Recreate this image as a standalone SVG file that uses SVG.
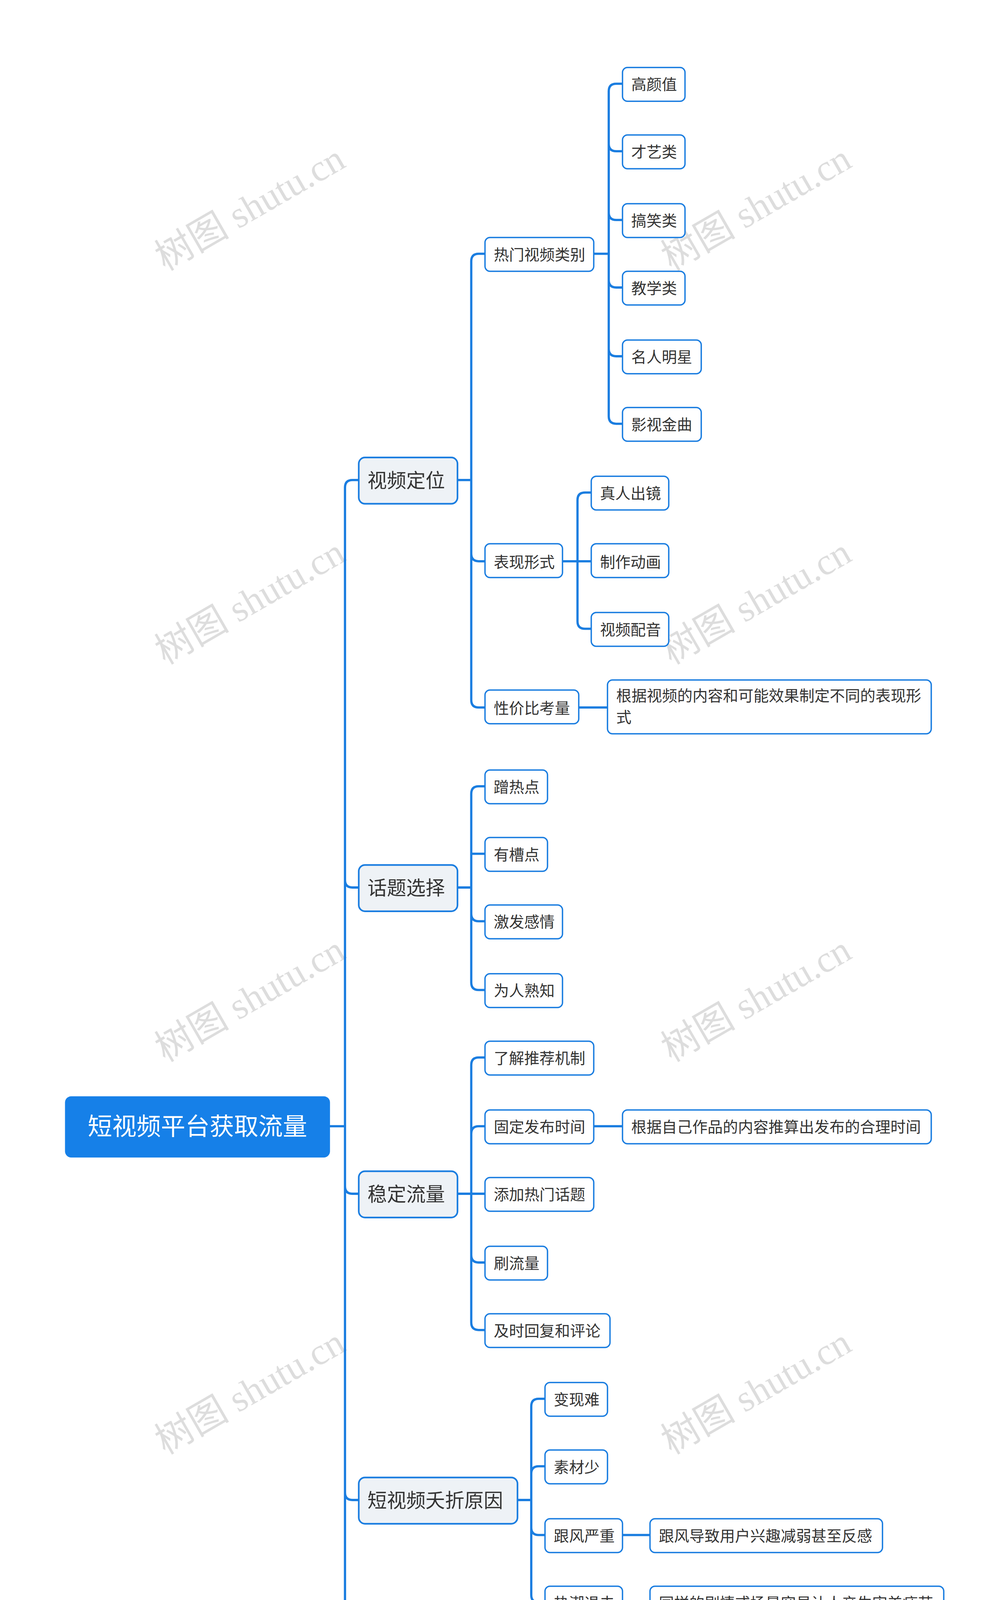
<svg xmlns="http://www.w3.org/2000/svg" width="2560" height="4969" viewBox="0 0 2560 4969">
<style>
.c{fill:none;stroke:#1a7de0;stroke-width:1.8;stroke-linecap:round}
.n{fill:#fff;stroke:#1a7de0;stroke-width:1.1}
.m{fill:#eef2f6;stroke:#1a7de0;stroke-width:1.3}
text{font-family:"Noto Sans CJK SC","Noto Sans",sans-serif;fill:#333}
.t{font-size:12.2px}
.l{font-size:15.5px}
.w{font-family:"Liberation Serif","Noto Sans CJK SC",serif;font-size:30px;fill:#000;opacity:0.13}
</style>
<rect width="2560" height="4969" fill="#fff"/>
<g transform="scale(3.2)">
<g id="watermarks">
<text class="w" transform="translate(205,175) rotate(-30)" text-anchor="middle">树图 shutu.cn</text>
<text class="w" transform="translate(610,175) rotate(-30)" text-anchor="middle">树图 shutu.cn</text>
<text class="w" transform="translate(205,490) rotate(-30)" text-anchor="middle">树图 shutu.cn</text>
<text class="w" transform="translate(610,490) rotate(-30)" text-anchor="middle">树图 shutu.cn</text>
<text class="w" transform="translate(205,808) rotate(-30)" text-anchor="middle">树图 shutu.cn</text>
<text class="w" transform="translate(610,808) rotate(-30)" text-anchor="middle">树图 shutu.cn</text>
<text class="w" transform="translate(205,1122) rotate(-30)" text-anchor="middle">树图 shutu.cn</text>
<text class="w" transform="translate(610,1122) rotate(-30)" text-anchor="middle">树图 shutu.cn</text>
<text class="w" transform="translate(205,1438) rotate(-30)" text-anchor="middle">树图 shutu.cn</text>
<text class="w" transform="translate(610,1438) rotate(-30)" text-anchor="middle">树图 shutu.cn</text>
</g>
<g id="connectors">
<path class="c" d="M264 901H276M276 390V1412M276 390Q276 384 282 384H287M276 704Q276 710 282 710H287M276 949Q276 955 282 955H287M276 1194Q276 1200 282 1200H287M276 1412Q276 1418 282 1418H287"/>
<path class="c" d="M366 384H377M377 209V560M377 209Q377 203 383 203H388M377 443Q377 449 383 449H388M377 560Q377 566 383 566H388"/>
<path class="c" d="M475 203H487M487 73V333M487 73Q487 67 493 67H498M487 115Q487 121 493 121H498M487 170Q487 176 493 176H498M487 224Q487 230 493 230H498M487 279Q487 285 493 285H498M487 333Q487 339 493 339H498"/>
<path class="c" d="M450 449H462M462 400V497M462 400Q462 394 468 394H473M462 449H473M462 497Q462 503 468 503H473"/>
<path class="c" d="M463 566H486"/>
<path class="c" d="M366 710H377M377 635V786M377 635Q377 629 383 629H388M377 683H388M377 731Q377 737 383 737H388M377 786Q377 792 383 792H388"/>
<path class="c" d="M366 955H377M377 852V1058M377 852Q377 846 383 846H388M377 907Q377 901 383 901H388M377 955H388M377 1004Q377 1010 383 1010H388M377 1058Q377 1064 383 1064H388"/>
<path class="c" d="M475 901H498"/>
<path class="c" d="M414 1200H425M425 1125V1276M425 1125Q425 1119 431 1119H436M425 1179Q425 1173 431 1173H436M425 1222Q425 1228 431 1228H436M425 1276Q425 1282 431 1282H436"/>
<path class="c" d="M498 1228H520M498 1282H520"/>
<path class="c" d="M366 1418H377M377 1343V1494M377 1343Q377 1337 383 1337H388M377 1397Q377 1391 383 1391H388M377 1440Q377 1446 383 1446H388M377 1494Q377 1500 383 1500H388"/>
</g>
<g id="root"><rect x="52" y="877" width="212" height="49" rx="5" fill="#1680e8"/><text x="158" y="908" font-size="19.5" text-anchor="middle" style="fill:#fff">短视频平台获取流量</text></g>
<g id="n1"><rect class="m" x="287" y="366" width="79" height="37" rx="5"/><text class="l" x="294" y="390">视频定位</text></g>
<g id="n2"><rect class="m" x="287" y="692" width="79" height="37" rx="5"/><text class="l" x="294" y="716">话题选择</text></g>
<g id="n3"><rect class="m" x="287" y="937" width="79" height="37" rx="5"/><text class="l" x="294" y="961">稳定流量</text></g>
<g id="n4"><rect class="m" x="287" y="1182" width="127" height="37" rx="5"/><text class="l" x="294" y="1206">短视频夭折原因</text></g>
<g id="n5"><rect class="m" x="287" y="1400" width="79" height="37" rx="5"/><text class="l" x="294" y="1424">变现方式</text></g>

<g id="a1"><rect class="n" x="388" y="190" width="87" height="27" rx="4"/><text class="t" x="395" y="208">热门视频类别</text></g>
<g id="a2"><rect class="n" x="388" y="435" width="62" height="27" rx="4"/><text class="t" x="395" y="454">表现形式</text></g>
<g id="a3"><rect class="n" x="388" y="552" width="75" height="27" rx="4"/><text class="t" x="395" y="571">性价比考量</text></g>
<g id="b1"><rect class="n" x="498" y="54" width="50" height="27" rx="4"/><text class="t" x="505" y="72">高颜值</text></g>
<g id="b2"><rect class="n" x="498" y="108" width="50" height="27" rx="4"/><text class="t" x="505" y="126">才艺类</text></g>
<g id="b3"><rect class="n" x="498" y="163" width="50" height="27" rx="4"/><text class="t" x="505" y="181">搞笑类</text></g>
<g id="b4"><rect class="n" x="498" y="217" width="50" height="27" rx="4"/><text class="t" x="505" y="235">教学类</text></g>
<g id="b5"><rect class="n" x="498" y="272" width="63" height="27" rx="4"/><text class="t" x="505" y="290">名人明星</text></g>
<g id="b6"><rect class="n" x="498" y="326" width="63" height="27" rx="4"/><text class="t" x="505" y="344">影视金曲</text></g>
<g id="c1"><rect class="n" x="473" y="381" width="62" height="27" rx="4"/><text class="t" x="480" y="399">真人出镜</text></g>
<g id="c2"><rect class="n" x="473" y="435" width="62" height="27" rx="4"/><text class="t" x="480" y="454">制作动画</text></g>
<g id="c3"><rect class="n" x="473" y="490" width="62" height="27" rx="4"/><text class="t" x="480" y="508">视频配音</text></g>
<g id="d1"><rect class="n" x="486" y="544" width="259" height="43" rx="4"/><text class="t" x="493" y="561">根据视频的内容和可能效果制定不同的表现形</text><text class="t" x="493" y="578">式</text></g>
<g id="e1"><rect class="n" x="388" y="616" width="50" height="27" rx="4"/><text class="t" x="395" y="634">蹭热点</text></g>
<g id="e2"><rect class="n" x="388" y="670" width="50" height="27" rx="4"/><text class="t" x="395" y="688">有槽点</text></g>
<g id="e3"><rect class="n" x="388" y="724" width="62" height="27" rx="4"/><text class="t" x="395" y="742">激发感情</text></g>
<g id="e4"><rect class="n" x="388" y="779" width="62" height="27" rx="4"/><text class="t" x="395" y="797">为人熟知</text></g>
<g id="f1"><rect class="n" x="388" y="833" width="87" height="27" rx="4"/><text class="t" x="395" y="851">了解推荐机制</text></g>
<g id="f2"><rect class="n" x="388" y="888" width="87" height="27" rx="4"/><text class="t" x="395" y="906">固定发布时间</text></g>
<g id="f2a"><rect class="n" x="498" y="888" width="247" height="27" rx="4"/><text class="t" x="505" y="906">根据自己作品的内容推算出发布的合理时间</text></g>
<g id="f3"><rect class="n" x="388" y="942" width="87" height="27" rx="4"/><text class="t" x="395" y="960">添加热门话题</text></g>
<g id="f4"><rect class="n" x="388" y="997" width="50" height="27" rx="4"/><text class="t" x="395" y="1015">刷流量</text></g>
<g id="f5"><rect class="n" x="388" y="1051" width="100" height="27" rx="4"/><text class="t" x="395" y="1069">及时回复和评论</text></g>
<g id="g1"><rect class="n" x="436" y="1106" width="50" height="27" rx="4"/><text class="t" x="443" y="1124">变现难</text></g>
<g id="g2"><rect class="n" x="436" y="1160" width="50" height="27" rx="4"/><text class="t" x="443" y="1178">素材少</text></g>
<g id="g3"><rect class="n" x="436" y="1215" width="62" height="27" rx="4"/><text class="t" x="443" y="1233">跟风严重</text></g>
<g id="g3a"><rect class="n" x="520" y="1215" width="186" height="27" rx="4"/><text class="t" x="527" y="1233">跟风导致用户兴趣减弱甚至反感</text></g>
<g id="g4"><rect class="n" x="436" y="1269" width="62" height="27" rx="4"/><text class="t" x="443" y="1287">热潮退去</text></g>
<g id="g4a"><rect class="n" x="520" y="1269" width="235" height="27" rx="4"/><text class="t" x="527" y="1287">同样的剧情或场景容易让人产生审美疲劳</text></g>
<g id="h1"><rect class="n" x="388" y="1324" width="62" height="27" rx="4"/><text class="t" x="395" y="1342">橱窗带货</text></g>
<g id="h2"><rect class="n" x="388" y="1378" width="62" height="27" rx="4"/><text class="t" x="395" y="1396">视频带货</text></g>
<g id="h3"><rect class="n" x="388" y="1433" width="37" height="27" rx="4"/><text class="t" x="395" y="1451">广告</text></g>
<g id="h4"><rect class="n" x="388" y="1487" width="37" height="27" rx="4"/><text class="t" x="395" y="1505">直播</text></g>
</g>
</svg>
